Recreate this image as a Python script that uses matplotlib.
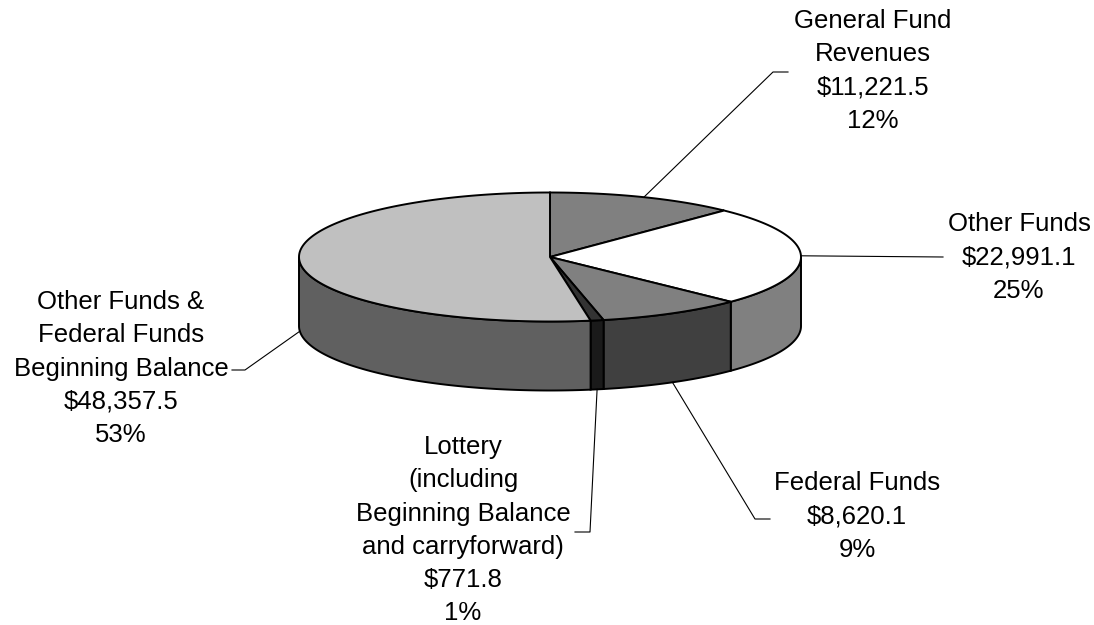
import numpy as np
import matplotlib.pyplot as plt
from matplotlib.patches import Polygon

# dane
nazwy = [["General Fund", "Revenues"],
         ["Other Funds"],
         ["Federal Funds"],
         ["Lottery", "(including", "Beginning Balance", "and carryforward)"],
         ["Other Funds &", "Federal Funds", "Beginning Balance"]]
wartosci = [11221.5, 22991.1, 8620.1, 771.8, 48357.5]
kolory_gora = ["#808080", "#ffffff", "#808080", "#333333", "#c0c0c0"]
kolory_bok = ["#404040", "#808080", "#404040", "#1a1a1a", "#606060"]

# geometria (piksele)
W, H = 1094, 625
cx, cy, rx, ry, gl = 550, 257, 251, 64.5, 69

# pozycje etykiet: srodek tekstu (x, y pierwszej linii), punkty lamanej linii
etyk_xy = [(873, 21), (1019, 224), (857, 483), (463, 447), (121, 302)]
lamane = [[(773, 72), (788, 72)],
          [(943, 257)],
          [(755, 519), (770, 519)],
          [(590, 532), (575, 532)],
          [(245, 370), (232, 370)]]
odstep = 33.3

plt.rcParams['font.family'] = ['Liberation Sans', 'DejaVu Sans']
fig = plt.figure(figsize=(W / 100, H / 100), dpi=100)
ax = fig.add_axes([0, 0, 1, 1])
ax.set_xlim(0, W)
ax.set_ylim(H, 0)
ax.axis('off')

def pkt(t, dy=0):
    return cx + rx * np.cos(t), cy - ry * np.sin(t) + dy

suma = sum(wartosci)
katy = [np.pi / 2]
for v in wartosci:
    katy.append(katy[-1] - v / suma * 2 * np.pi)

# boki (tylko przednia polowa, t w (-pi, 0))
for i in range(len(wartosci)):
    a0, a1 = katy[i], katy[i + 1]  # a0 > a1
    lo = max(a1, -np.pi)
    hi = min(a0, 0)
    if hi <= lo:
        continue
    t = np.linspace(hi, lo, 120)
    x, y = pkt(t)
    xb, yb = pkt(t[::-1], gl)
    xs = np.concatenate([x, xb])
    ys = np.concatenate([y, yb])
    ax.add_patch(Polygon(np.column_stack([xs, ys]), closed=True,
                         fc=kolory_bok[i], ec="black", lw=1.4, zorder=2))

# gorne sciany
for i in range(len(wartosci)):
    a0, a1 = katy[i], katy[i + 1]
    t = np.linspace(a0, a1, 200)
    x, y = pkt(t)
    xs = np.concatenate([[cx], x])
    ys = np.concatenate([[cy], y])
    ax.add_patch(Polygon(np.column_stack([xs, ys]), closed=True,
                         fc=kolory_gora[i], ec="black", lw=1.4, zorder=3))

# etykiety i linie
for i in range(len(wartosci)):
    a0, a1 = katy[i], katy[i + 1]
    srodek = (a0 + a1) / 2
    if np.sin(srodek) < 0:
        p0 = pkt(srodek, gl)
    else:
        p0 = pkt(srodek)
    linia = [p0] + lamane[i]
    ax.plot([p[0] for p in linia], [p[1] for p in linia], color="black", lw=0.8, zorder=4)
    proc = wartosci[i] / suma * 100
    linie = nazwy[i] + ["${:,.1f}".format(wartosci[i]), "{:.0f}%".format(proc)]
    x0, y0 = etyk_xy[i]
    for k, s in enumerate(linie):
        ax.text(x0, y0 + k * odstep, s, ha="center", va="center", fontsize=18.5, zorder=5)

fig.savefig("out.png", dpi=100)
